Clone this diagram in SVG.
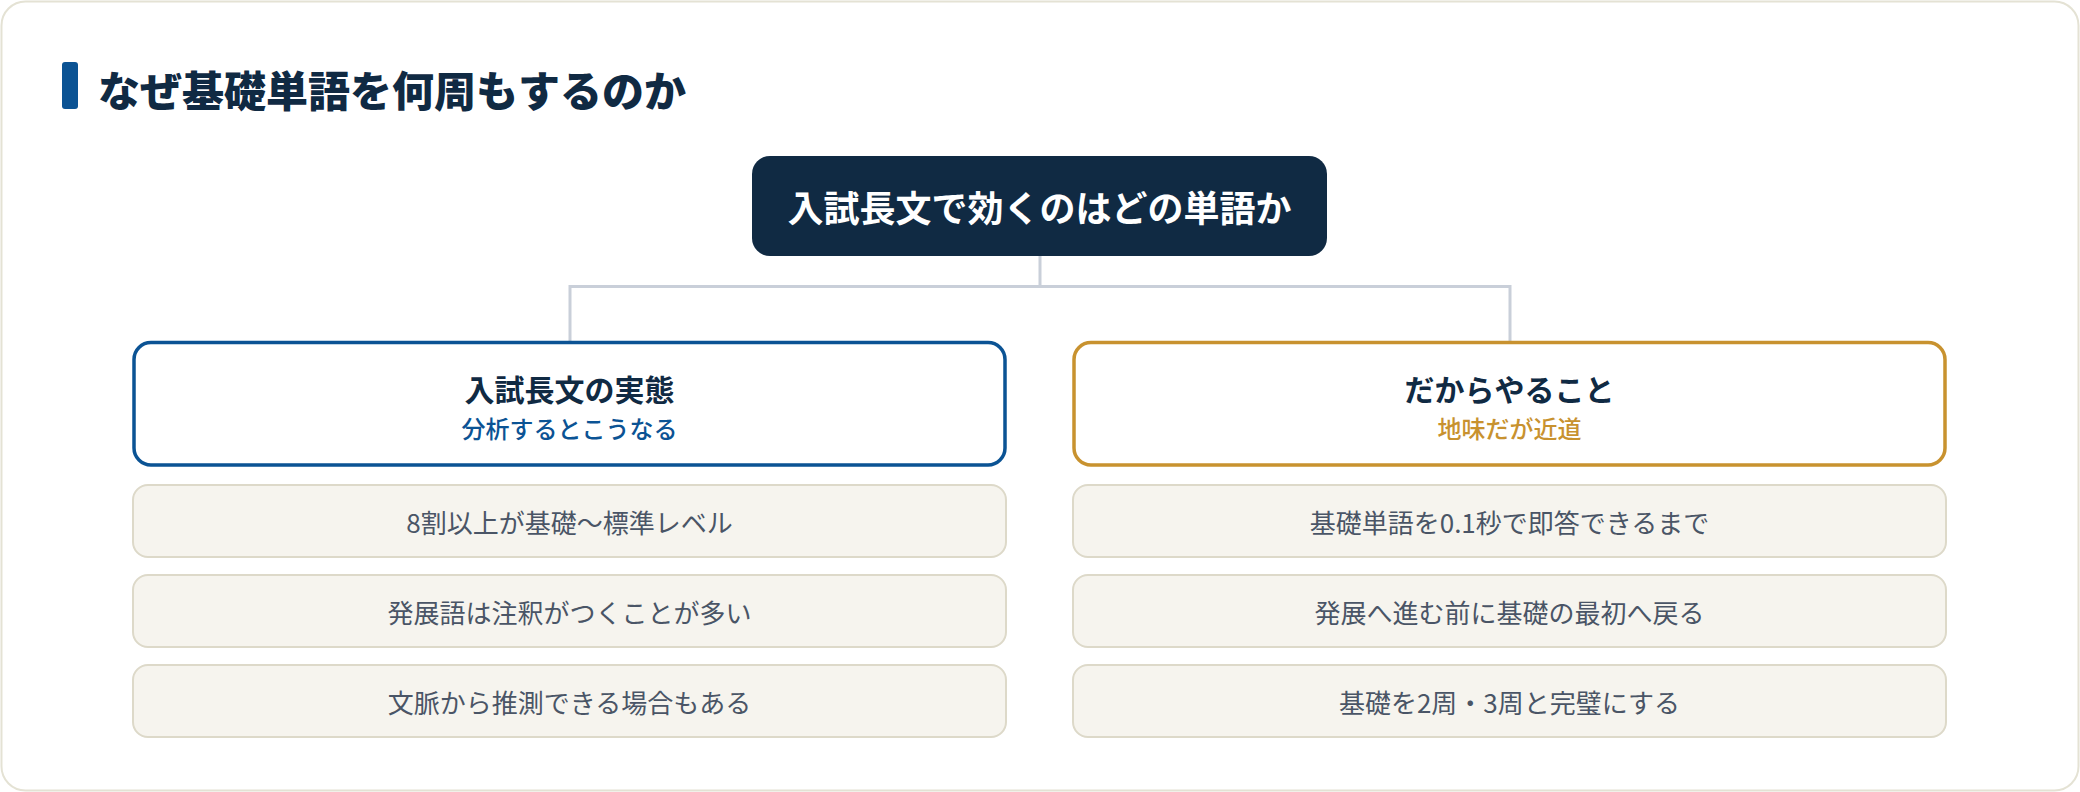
<svg xmlns="http://www.w3.org/2000/svg" width="2080" height="792" viewBox="0 0 2080 792">
<style>
text{font-family:"Noto Sans CJK JP","Noto Sans",sans-serif;text-anchor:middle;dominant-baseline:central}
.item rect{fill:#f6f4ee;stroke:#ddd9c9;stroke-width:2}
.item text{font-size:26px;fill:#4a5566}
.head rect{fill:#ffffff;stroke-width:3.5}
.ht{font-size:30px;font-weight:700;fill:#102a43}
.hs{font-size:24px;font-weight:500}
.conn path{fill:none;stroke:#c9cfd9;stroke-width:3}
</style>
<rect x="1.5" y="1.5" width="2077" height="789" rx="24" fill="#ffffff" stroke="#e4e2d4" stroke-width="2"/>
<g id="title">
<rect x="62" y="62" width="16" height="47" rx="3" fill="#0b5394"/>
<text x="98" y="88" style="text-anchor:start;font-size:42px;font-weight:900;fill:#102a43">なぜ基礎単語を何周もするのか</text>
</g>
<g class="conn" id="connectors">
<path d="M1040 256 V286.5 H570 V341"/>
<path d="M1040 286.5 H1510 V341"/>
</g>
<g id="root">
<rect x="752" y="156" width="575" height="100" rx="18" fill="#102a43"/>
<text x="1039.5" y="206" style="font-size:36px;font-weight:700;fill:#ffffff">入試長文で効くのはどの単語か</text>
</g>
<g id="left-head" class="head">
<rect x="134" y="342.5" width="871" height="122.5" rx="17" stroke="#0b5394"/>
<text class="ht" x="569.5" y="388">入試長文の実態</text>
<text class="hs" x="569.5" y="427" fill="#0b5394">分析するとこうなる</text>
</g>
<g id="right-head" class="head">
<rect x="1074" y="342.5" width="871" height="122.5" rx="17" stroke="#c8922f"/>
<text class="ht" x="1509.5" y="388">だからやること</text>
<text class="hs" x="1509.5" y="427" fill="#c8922f">地味だが近道</text>
</g>
<g id="l1" class="item"><rect x="133" y="485" width="873" height="72" rx="15"/><text x="569.5" y="521">8割以上が基礎〜標準レベル</text></g>
<g id="l2" class="item"><rect x="133" y="575" width="873" height="72" rx="15"/><text x="569.5" y="611">発展語は注釈がつくことが多い</text></g>
<g id="l3" class="item"><rect x="133" y="665" width="873" height="72" rx="15"/><text x="569.5" y="701">文脈から推測できる場合もある</text></g>
<g id="r1" class="item"><rect x="1073" y="485" width="873" height="72" rx="15"/><text x="1509.5" y="521">基礎単語を0.1秒で即答できるまで</text></g>
<g id="r2" class="item"><rect x="1073" y="575" width="873" height="72" rx="15"/><text x="1509.5" y="611">発展へ進む前に基礎の最初へ戻る</text></g>
<g id="r3" class="item"><rect x="1073" y="665" width="873" height="72" rx="15"/><text x="1509.5" y="701">基礎を2周・3周と完璧にする</text></g>
</svg>
